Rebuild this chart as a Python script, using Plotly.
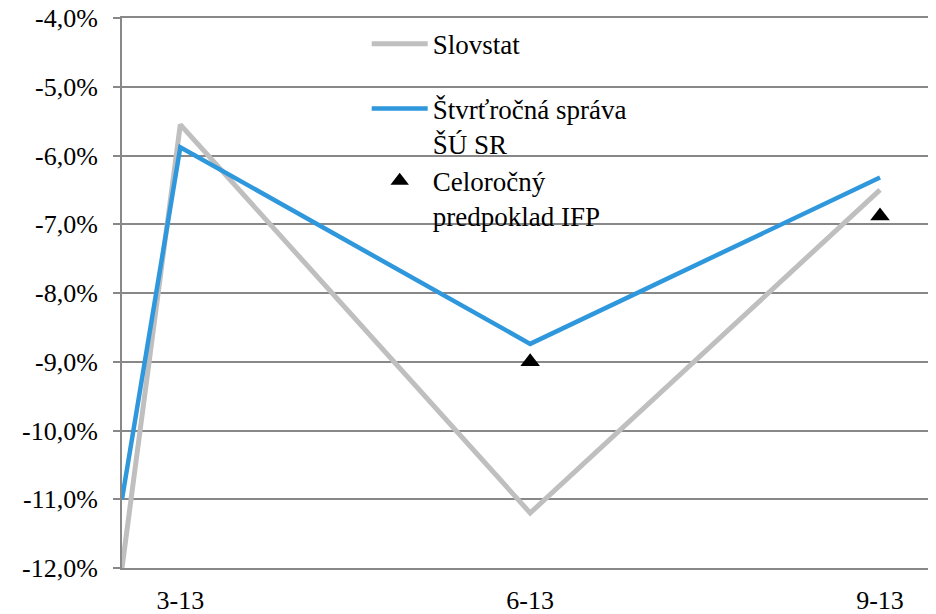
import plotly.graph_objects as go

# months of 2013 (first point sits half a month before the 3-13 tick)
months = [2.5, 3, 6, 9]
tick_months = [3, 6, 9]
tick_labels = ["3-13", "6-13", "9-13"]

slovstat = [-12.0, -5.55, -11.2, -6.5]
stvrtrocna = [-11.0, -5.88, -8.74, -6.32]

ifp_months = [6, 9]
ifp = [-9.0, -6.88]

y_ticks = [-12, -11, -10, -9, -8, -7, -6, -5, -4]
y_tick_labels = ["-12,0%", "-11,0%", "-10,0%", "-9,0%", "-8,0%",
                 "-7,0%", "-6,0%", "-5,0%", "-4,0%"]

FONT = "Liberation Serif"
GRID = "#888888"

fig = go.Figure()
fig.add_trace(go.Scatter(
    x=months, y=slovstat, mode="lines", name="Slovstat",
    line=dict(color="#BFBFBF", width=5), legend="legend", showlegend=True))
fig.add_trace(go.Scatter(
    x=months, y=stvrtrocna, mode="lines", name="Štvrťročná správa<br>ŠÚ SR",
    line=dict(color="#2F97DB", width=4.5), legend="legend2", showlegend=True))
fig.add_trace(go.Scatter(
    x=ifp_months, y=ifp, mode="markers", name="Celoročný<br>predpoklad IFP",
    marker=dict(symbol="triangle-up", size=17, color="black"),
    legend="legend3", showlegend=True))

leg = dict(x=0.3006, xanchor="left", yanchor="top", valign="top", visible=True,
           bgcolor="rgba(0,0,0,0)", itemwidth=56, font=dict(size=27))

# page body adds an 8px offset, so the figure is 8px smaller than the window
fig.update_layout(
    width=928, height=606,
    margin=dict(l=114, r=0, t=10, b=46),
    showlegend=True,
    plot_bgcolor="white", paper_bgcolor="white",
    font=dict(family=FONT, size=26, color="black"),
    legend=dict(leg, y=0.997),
    legend2=dict(leg, y=0.879),
    legend3=dict(leg, y=0.748),
)
fig.update_xaxes(
    range=[2.5, 9.48], tickvals=tick_months, ticktext=tick_labels,
    showgrid=False, zeroline=False, showline=True, linecolor=GRID, linewidth=2,
    mirror=True, ticks="", ticklabelstandoff=8, automargin=False,
    ticklabeloverflow="allow")
fig.update_yaxes(
    range=[-12, -4], tickvals=y_ticks, ticktext=y_tick_labels,
    showgrid=True, gridcolor=GRID, gridwidth=2, zeroline=False,
    showline=True, linecolor=GRID, linewidth=2,
    ticks="outside", ticklen=7, tickcolor=GRID, tickwidth=2,
    ticklabelstandoff=10, automargin=False, ticklabeloverflow="allow")

fig.write_html("out.html")
